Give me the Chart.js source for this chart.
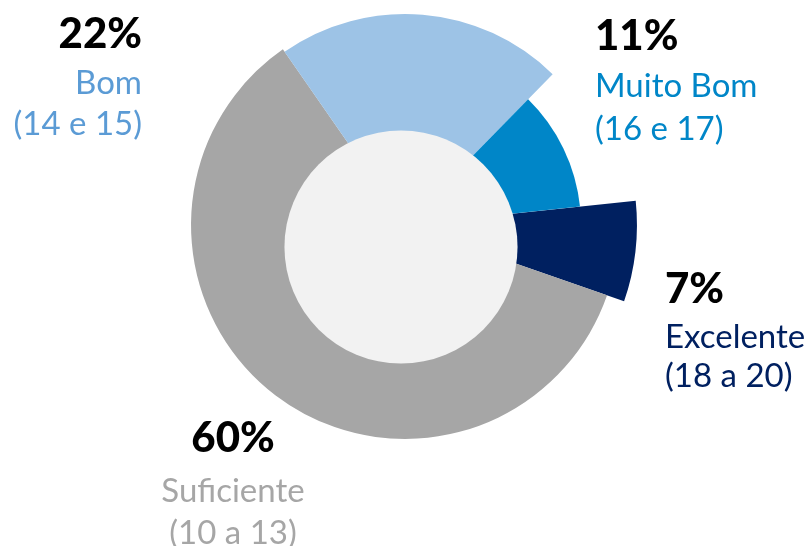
<!DOCTYPE html>
<html>
<head>
<meta charset="utf-8">
<script src="https://cdn.jsdelivr.net/npm/chart.js@4/dist/chart.umd.min.js"></script>
<style>
  html, body { margin: 0; padding: 0; background: #ffffff; }
  #wrap { position: relative; width: 807px; height: 546px; overflow: hidden; }
  #pie, #labels { position: absolute; left: 0; top: 0; }
  #labels text { font-family: Lato, "Open Sans", sans-serif; }
  #labels .pct { font-weight: 900; fill: #000000; }
</style>
</head>
<body>
<div id="wrap">
  <canvas id="pie" width="807" height="546"></canvas>
  <svg id="labels" xmlns="http://www.w3.org/2000/svg" width="807" height="546"></svg>
</div>
<script>
// Grade bands and their share of students (%)
const categories  = ['Excelente', 'Suficiente', 'Bom', 'Muito Bom'];
const scoreRanges = ['(18 a 20)', '(10 a 13)', '(14 e 15)', '(16 e 17)'];
const shares      = [7, 60, 22, 11];

// Styling
const sliceColors = ['#002060', '#A6A6A6', '#9DC3E6', '#0086C8'];
const labelColors = ['#002060', '#A6A6A6', '#5B9BD5', '#0086C8'];
const sliceReach  = [1.031, 0.951, 0.938, 0.782];   // outer radius of each slice, relative to the pie radius
const hole = { dx: -4, dy: 22, reach: 0.518, color: '#F2F2F2' };

// Label blocks: anchor x, baselines of the three lines, text alignment
const labelBlocks = [
  { x: 665, lines: [303, 348, 387], anchor: 'start'  },
  { x: 233, lines: [452, 502, 544], anchor: 'middle' },
  { x: 142, lines: [48, 94, 135],   anchor: 'end'    },
  { x: 595, lines: [50, 97, 140],   anchor: 'start'  }
];
const pctSize = 42;
const textSize = 33;

// Give every slice its own outer radius
const sliceReachPlugin = {
  id: 'sliceReach',
  beforeDatasetsDraw(chart) {
    const meta = chart.getDatasetMeta(0);
    const base = meta.controller.outerRadius;
    meta.data.forEach((arc, i) => { arc.outerRadius = base * sliceReach[i]; });
  }
};

// Light disc in the middle of the pie
const centreDiscPlugin = {
  id: 'centreDisc',
  afterDatasetsDraw(chart) {
    const meta = chart.getDatasetMeta(0);
    const arc = meta.data[0];
    const base = meta.controller.outerRadius;
    const ctx = chart.ctx;
    ctx.save();
    ctx.beginPath();
    ctx.arc(arc.x + hole.dx, arc.y + hole.dy, base * hole.reach, 0, Math.PI * 2);
    ctx.fillStyle = hole.color;
    ctx.fill();
    ctx.restore();
  }
};

new Chart(document.getElementById('pie'), {
  type: 'pie',
  data: {
    labels: categories,
    datasets: [{
      data: shares,
      backgroundColor: sliceColors,
      borderWidth: 0,
      hoverOffset: 0
    }]
  },
  options: {
    responsive: false,
    animation: false,
    events: [],
    rotation: 84,
    layout: { padding: { left: 180, right: 177, top: 0, bottom: 96 } },
    plugins: { legend: { display: false }, tooltip: { enabled: false } }
  },
  plugins: [sliceReachPlugin, centreDiscPlugin]
});

// Percentage, band name and score range beside each slice
const svgNS = 'http://www.w3.org/2000/svg';
const svg = document.getElementById('labels');
function addText(str, x, y, anchor, size, cls, color) {
  const t = document.createElementNS(svgNS, 'text');
  t.setAttribute('x', x);
  t.setAttribute('y', y);
  t.setAttribute('text-anchor', anchor);
  t.setAttribute('font-size', size);
  if (cls) t.setAttribute('class', cls);
  if (color) t.setAttribute('fill', color);
  t.textContent = str;
  svg.appendChild(t);
}
categories.forEach((name, i) => {
  const b = labelBlocks[i];
  addText(shares[i] + '%', b.x, b.lines[0], b.anchor, pctSize, 'pct', null);
  addText(name, b.x, b.lines[1], b.anchor, textSize, null, labelColors[i]);
  addText(scoreRanges[i], b.x, b.lines[2], b.anchor, textSize, null, labelColors[i]);
});
</script>
</body>
</html>
